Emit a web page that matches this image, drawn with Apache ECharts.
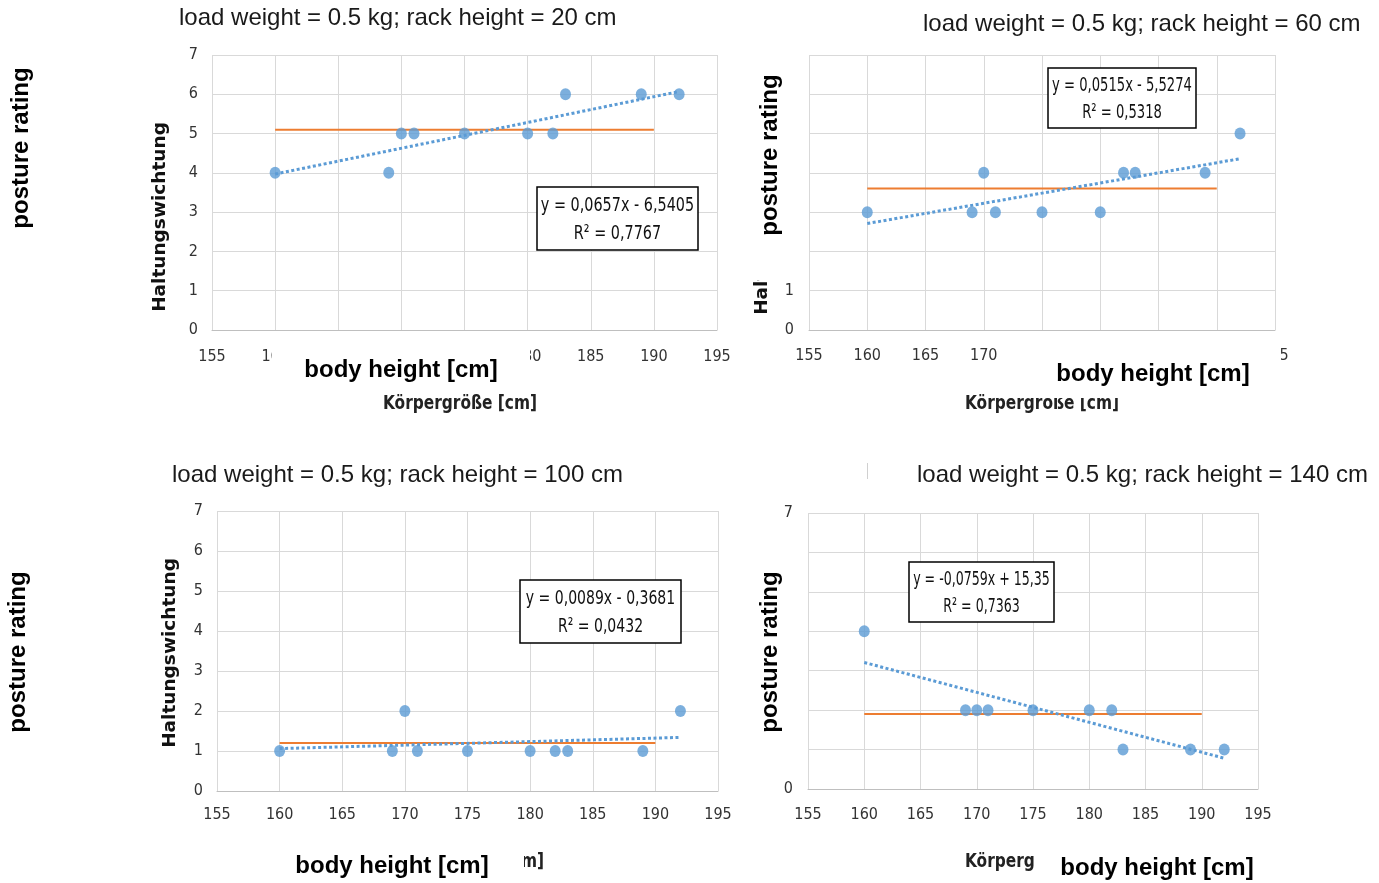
<!DOCTYPE html>
<html>
<head>
<meta charset="utf-8">
<title>posture rating vs body height</title>
<script src="https://cdn.jsdelivr.net/npm/echarts@6/dist/echarts.min.js"></script>
<style>
  html, body { margin: 0; padding: 0; background: #fff; }
  #chart { width: 1379px; height: 883px; }
</style>
</head>
<body>
<div id="chart"></div>
<script>
// data (load weight 0.5 kg)
var panelTitles = [
  "load weight = 0.5 kg; rack height = 20 cm",
  "load weight = 0.5 kg; rack height = 60 cm",
  "load weight = 0.5 kg; rack height = 100 cm",
  "load weight = 0.5 kg; rack height = 140 cm"
];
var bodyHeights = [160, 169, 170, 171, 175, 180, 182, 183, 189, 192];
var rating20 = [4, 4, 5, 5, 5, 5, 5, 6, 6, 6];
var rating60 = [3, 3, 4, 3, 3, 3, 4, 4, 4, 5];
var rating100 = [1, 1, 2, 1, 1, 1, 1, 1, 1, 2];
var rating140 = [4, 2, 2, 2, 2, 2, 2, 1, 1, 1];
var ratings = [rating20, rating60, rating100, rating140];

// trend line ends (x 160 -> 192) and mean line level (x 160 -> 190)
var trendX = [160, 192];
var trendStart = [3.97, 2.71, 1.06, 3.21];
var trendEnd = [6.07, 4.36, 1.34, 0.78];
var meanX = [160, 190];
var meanLevel = [5.1, 3.6, 1.2, 1.9];

var equations = [
  ["y = 0,0657x - 6,5405", "R\u00b2 = 0,7767"],
  ["y = 0,0515x - 5,5274", "R\u00b2 = 0,5318"],
  ["y = 0,0089x - 0,3681", "R\u00b2 = 0,0432"],
  ["y = -0,0759x + 15,35", "R\u00b2 = 0,7363"]
];

var NARROW = '"Liberation Sans Narrow", "DejaVu Sans Condensed", sans-serif';
var ARIAL = '"Liberation Sans", Arial, sans-serif';
var BLUE = "#5B9BD5";
var ORANGE = "#ED7D31";
var GRIDC = "#D9D9D9";

// plot areas
var grids = [
  { left: 212, top: 55, width: 505, height: 275 },
  { left: 809, top: 55, width: 466, height: 275 },
  { left: 217, top: 511, width: 501, height: 280 },
  { left: 808, top: 513, width: 450, height: 276 }
];
var xLabelMargin = [19, 18, 16, 18];
var yLabelMargin = [14, 15, 14, 15];

var chart = echarts.init(document.getElementById("chart"));

var xAxes = [], yAxes = [], series = [];
for (var i = 0; i < 4; i++) {
  xAxes.push({
    type: "value", gridIndex: i, min: 155, max: 195, interval: 5,
    axisLine: { show: true, lineStyle: { color: "#BFBFBF", width: 1 } },
    axisTick: { show: false },
    splitLine: { show: true, lineStyle: { color: GRIDC, width: 1 } },
    axisLabel: { fontSize: 16, color: "#333", fontFamily: NARROW, margin: xLabelMargin[i] }
  });
  yAxes.push({
    type: "value", gridIndex: i, min: 0, max: 7, interval: 1,
    axisLine: { show: false },
    axisTick: { show: false },
    splitLine: { show: true, lineStyle: { color: GRIDC, width: 1 } },
    axisLabel: { fontSize: 16, color: "#333", fontFamily: NARROW, margin: yLabelMargin[i] }
  });
  series.push({
    type: "line", xAxisIndex: i, yAxisIndex: i, z: 3,
    data: [[meanX[0], meanLevel[i]], [meanX[1], meanLevel[i]]],
    showSymbol: false, silent: true,
    lineStyle: { color: ORANGE, width: 2 }
  });
  series.push({
    type: "line", xAxisIndex: i, yAxisIndex: i, z: 4,
    data: [[trendX[0], trendStart[i]], [trendX[1], trendEnd[i]]],
    showSymbol: false, silent: true,
    lineStyle: { color: BLUE, width: 3, type: [3, 2.5] }
  });
  series.push({
    type: "scatter", xAxisIndex: i, yAxisIndex: i, z: 5,
    data: bodyHeights.map(function (h, k) { return [h, ratings[i][k]]; }),
    symbol: "circle", symbolSize: [11, 12], silent: true,
    itemStyle: { color: BLUE }
  });
}

function txt(x, y, s, font, z, rot, fill, sx) {
  return {
    type: "text", z: z, x: x, y: y, rotation: rot || 0, scaleX: sx || 1, silent: true,
    style: { text: s, font: font, fill: fill || "#000", textAlign: "center", textVerticalAlign: "middle" }
  };
}
function cover(x, y, w, h) {
  return { type: "rect", z: 101, silent: true, shape: { x: x, y: y, width: w, height: h }, style: { fill: "#fff" } };
}

var UP = Math.PI / 2;
var graphics = [];

// panel titles
var titlePos = [[179, 18], [923, 24], [172, 475], [917, 475]];
titlePos.forEach(function (p, k) {
  graphics.push({
    type: "text", z: 100, x: p[0], y: p[1], silent: true,
    style: { text: panelTitles[k], font: "24px " + ARIAL, fill: "#1a1a1a", textAlign: "left", textVerticalAlign: "middle" }
  });
});

// original axis names
var yNamePos = [[160, 217], [762, 220], [170, 653], [770, 651]];
var xNamePos = [[460, 404], [1042, 404], [467, 862], [1042, 862]];
for (var k = 0; k < 4; k++) {
  graphics.push(txt(yNamePos[k][0], yNamePos[k][1], "Haltungswichtung", 'bold 18.5px "DejaVu Sans", sans-serif', 100, UP, "#111"));
  graphics.push(txt(xNamePos[k][0], xNamePos[k][1], "Körpergröße [cm]", "bold 19px " + NARROW, 100, 0, "#222", 0.9));
}

// regression boxes
var boxes = [[537, 187, 161, 63], [1048, 68, 148, 60], [520, 580, 161, 63], [909, 562, 145, 60]];
var eqScale = [0.8, 0.73, 0.78, 0.7];
boxes.forEach(function (b, k) {
  graphics.push({
    type: "rect", z: 100, silent: true,
    shape: { x: b[0], y: b[1], width: b[2], height: b[3] },
    style: { fill: "#fff", stroke: "#000", lineWidth: 1.5 }
  });
  var cx = b[0] + b[2] / 2;
  graphics.push(txt(cx, b[1] + b[3] * 0.3, equations[k][0], "20px " + NARROW, 100, 0, "#111", eqScale[k]));
  graphics.push(txt(cx, b[1] + b[3] * 0.74, equations[k][1], "20px " + NARROW, 100, 0, "#111", eqScale[k]));
});

// white patches pasted over the German labels
graphics.push(cover(272, 343, 258, 50));
graphics.push(cover(745, 44, 58, 236));
graphics.push(cover(1000, 343, 281, 55));
graphics.push(cover(280, 842, 244, 41));
graphics.push(cover(745, 522, 58, 258));
graphics.push(cover(1034, 842, 237, 41));

// english labels
var BOLD = "bold 24px " + ARIAL;
graphics.push(txt(401, 370, "body height [cm]", BOLD, 102));
graphics.push(txt(1153, 374, "body height [cm]", BOLD, 102));
graphics.push(txt(392, 866, "body height [cm]", BOLD, 102));
graphics.push(txt(1157, 868, "body height [cm]", BOLD, 102));
graphics.push(txt(770, 155, "posture rating", BOLD, 102, UP));
graphics.push(txt(770, 652, "posture rating", BOLD, 102, UP));
graphics.push(txt(21, 148, "posture rating", BOLD, 102, UP));
graphics.push(txt(18, 652, "posture rating", BOLD, 102, UP));

// stray marks
graphics.push({ type: "line", z: 100, silent: true, shape: { x1: 867.5, y1: 463, x2: 867.5, y2: 479 }, style: { stroke: "#D0D0D0", lineWidth: 1 } });

chart.setOption({
  animation: false,
  backgroundColor: "#fff",
  grid: grids.map(function (g) {
    return { left: g.left, top: g.top, width: g.width, height: g.height, containLabel: false, outerBoundsMode: "none" };
  }),
  xAxis: xAxes,
  yAxis: yAxes,
  series: series,
  graphic: { elements: graphics }
});
</script>
</body>
</html>
